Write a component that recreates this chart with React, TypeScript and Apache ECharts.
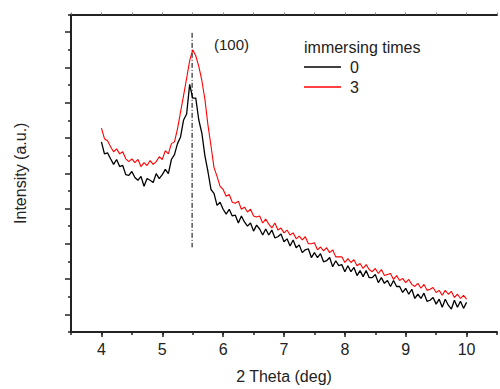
import React, { useEffect, useRef } from 'react';
import * as echarts from 'echarts';

const FONT = "Arial, 'Liberation Sans', Helvetica, sans-serif";

// 2θ sampling positions (deg)
const twoTheta: number[] = [
  4.00, 4.05, 4.10, 4.15, 4.20, 4.25, 4.30, 4.35, 4.40, 4.45,
  4.50, 4.55, 4.60, 4.65, 4.70, 4.75, 4.80, 4.85, 4.90, 4.95,
  5.00, 5.05, 5.10, 5.15, 5.20, 5.25, 5.30, 5.35, 5.40, 5.45,
  5.50, 5.55, 5.60, 5.65, 5.70, 5.75, 5.80, 5.85, 5.90, 5.95,
  6.00, 6.05, 6.10, 6.15, 6.20, 6.25, 6.30, 6.35, 6.40, 6.45,
  6.50, 6.55, 6.60, 6.65, 6.70, 6.75, 6.80, 6.85, 6.90, 6.95,
  7.00, 7.05, 7.10, 7.15, 7.20, 7.25, 7.30, 7.35, 7.40, 7.45,
  7.50, 7.55, 7.60, 7.65, 7.70, 7.75, 7.80, 7.85, 7.90, 7.95,
  8.00, 8.05, 8.10, 8.15, 8.20, 8.25, 8.30, 8.35, 8.40, 8.45,
  8.50, 8.55, 8.60, 8.65, 8.70, 8.75, 8.80, 8.85, 8.90, 8.95,
  9.00, 9.05, 9.10, 9.15, 9.20, 9.25, 9.30, 9.35, 9.40, 9.45,
  9.50, 9.55, 9.60, 9.65, 9.70, 9.75, 9.80, 9.85, 9.90, 9.95,
  10.00,
];

// immersing time 0 (black)
const intensity0: number[] = [
  539, 505, 508, 491, 475, 489, 469, 472, 446, 444, 455, 438, 430, 441, 413, 435, 430, 424, 449, 435,
  446, 461, 449, 489, 503, 534, 553, 601, 618, 702, 663, 663, 601, 564, 500, 455, 404, 393, 359, 368,
  348, 334, 348, 329, 331, 309, 329, 312, 300, 309, 286, 303, 292, 275, 292, 275, 289, 267, 270, 278,
  256, 264, 244, 261, 239, 247, 225, 233, 236, 211, 225, 211, 222, 199, 202, 211, 185, 202, 188, 191,
  171, 188, 171, 183, 160, 174, 157, 174, 154, 154, 163, 140, 154, 138, 146, 129, 146, 129, 129, 112,
  124, 107, 121, 95, 107, 95, 110, 87, 90, 98, 79, 93, 70, 93, 76, 65, 90, 70, 87, 67,
  84,
];

// immersing time 3 (red)
const intensity3: number[] = [
  578, 548, 542, 525, 511, 519, 505, 511, 491, 483, 491, 480, 489, 469, 480, 472, 486, 475, 483, 497,
  489, 514, 505, 534, 539, 576, 623, 671, 719, 769, 800, 783, 753, 713, 660, 587, 528, 466, 441, 413,
  404, 385, 390, 368, 365, 371, 348, 354, 340, 348, 329, 326, 329, 309, 320, 306, 295, 309, 289, 295,
  281, 289, 275, 281, 264, 272, 261, 270, 250, 250, 253, 233, 241, 230, 239, 225, 233, 213, 213, 213,
  197, 208, 197, 205, 188, 194, 180, 191, 177, 171, 180, 166, 177, 160, 163, 166, 149, 160, 146, 152,
  140, 149, 135, 129, 138, 124, 135, 118, 121, 126, 112, 118, 104, 118, 107, 115, 98, 107, 95, 104,
  93,
];

// (100) reflection marker
const peakPosition = 5.49;
const peakLineRange: number[] = [848, 240];

const seriesNames: string[] = ['0', '3'];
const seriesColors: string[] = ['#000000', '#ff0000'];

export default function App() {
  const ref = useRef<HTMLDivElement>(null);

  useEffect(() => {
    if (!ref.current) return;
    const chart = echarts.init(ref.current, undefined, { renderer: 'svg' });
    const axisColor = '#222';
    const toPairs = (ys: number[]) => twoTheta.map((x, i) => [x, ys[i]]);

    const option: any = {
      animation: false,
      backgroundColor: '#ffffff',
      grid: { left: 71, top: 14.5, width: 431, height: 320.5, containLabel: false },
      xAxis: [
        {
          type: 'value', min: 3.5, max: 10.5, interval: 0.5, position: 'bottom',
          axisLine: { show: true, onZero: false, lineStyle: { color: axisColor, width: 2 } },
          axisTick: { show: true, length: 3, lineStyle: { color: axisColor, width: 1.5 } },
          axisLabel: {
            formatter: (v: number) => (Math.abs(v - Math.round(v)) < 1e-6 ? String(Math.round(v)) : ''),
            fontSize: 16, color: axisColor, margin: 9, fontFamily: FONT,
          },
          splitLine: { show: false },
          name: '2 Theta (deg)', nameLocation: 'middle', nameGap: 36,
          nameTextStyle: { fontSize: 16, color: axisColor, fontFamily: FONT },
        },
        {
          type: 'value', min: 0, max: 7, interval: 1, position: 'bottom', offset: 0,
          axisLine: { show: false }, axisTick: { show: false }, axisLabel: { show: false },
          splitLine: { show: false },
          minorTick: { show: true, splitNumber: 2, length: 5, lineStyle: { color: axisColor, width: 1.5 } },
          minorSplitLine: { show: false },
        },
        {
          type: 'value', min: 0, max: 14, interval: 1, position: 'top',
          axisLine: { show: true, onZero: false, lineStyle: { color: axisColor, width: 2 } },
          axisTick: { show: true, length: 2, lineStyle: { color: '#888', width: 1 } },
          axisLabel: { show: false }, splitLine: { show: false },
        },
      ],
      yAxis: [
        {
          type: 'value', min: 0, max: 900, interval: 100, position: 'left',
          axisLine: { show: true, onZero: false, lineStyle: { color: axisColor, width: 2 } },
          axisTick: { show: true, length: 3, lineStyle: { color: axisColor, width: 1.5 } },
          minorTick: { show: true, splitNumber: 2, length: 6, lineStyle: { color: axisColor, width: 1.5 } },
          axisLabel: { show: false }, splitLine: { show: false },
          name: 'Intensity (a.u.)', nameLocation: 'middle', nameGap: 43,
          nameTextStyle: { fontSize: 16, color: axisColor, fontFamily: FONT },
        },
      ],
      legend: {
        data: seriesNames, orient: 'vertical', left: 304, top: 58,
        icon: 'rect', itemWidth: 37, itemHeight: 1.5, itemGap: 2, padding: 0,
        textStyle: { fontSize: 16, lineHeight: 18, color: axisColor, fontFamily: FONT, padding: [0, 0, 0, 4] },
      },
      graphic: [
        { type: 'text', left: 304, top: 39, style: { text: 'immersing times', fontSize: 16, fill: axisColor, font: `16px ${FONT}` } },
        { type: 'text', left: 214, top: 37, style: { text: '(100)', fontSize: 15, fill: axisColor, font: `15px ${FONT}` } },
      ],
      series: [
        {
          name: 'peak', type: 'line', xAxisIndex: 0, yAxisIndex: 0, silent: true,
          symbol: 'none', showSymbol: false,
          data: peakLineRange.map((y) => [peakPosition, y]),
          lineStyle: { color: '#000', width: 1, type: [5, 2, 1, 2] },
          z: 1,
        },
        {
          name: seriesNames[0], type: 'line', xAxisIndex: 0, yAxisIndex: 0,
          symbol: 'none', showSymbol: false, data: toPairs(intensity0),
          lineStyle: { color: seriesColors[0], width: 1.3 }, itemStyle: { color: seriesColors[0] },
          z: 3,
        },
        {
          name: seriesNames[1], type: 'line', xAxisIndex: 0, yAxisIndex: 0,
          symbol: 'none', showSymbol: false, data: toPairs(intensity3),
          lineStyle: { color: seriesColors[1], width: 1.1 }, itemStyle: { color: seriesColors[1] },
          z: 2,
        },
      ],
    };
    chart.setOption(option);
    return () => chart.dispose();
  }, []);

  return (
    <div
      ref={ref}
      style={{ position: 'fixed', left: 0, top: 0, width: 500, height: 389, background: '#fff' }}
    />
  );
}
